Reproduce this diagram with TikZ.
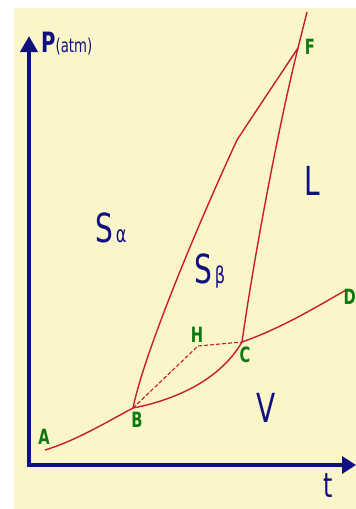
\documentclass[tikz,border=0pt]{standalone}
\usepackage{fontspec}
\setmainfont{DejaVu Sans}
\newfontfamily\diagfont[FakeStretch=0.7]{DejaVu Sans}
\usetikzlibrary{arrows.meta,positioning}
\definecolor{navy}{RGB}{16,16,128}
\definecolor{cream}{RGB}{251,246,202}
\definecolor{green2}{RGB}{16,120,16}
\definecolor{red2}{RGB}{200,30,36}
\tikzset{
  axis/.style={draw=navy, line width=4.5pt, line join=miter,
    {Triangle[length=16pt,width=17pt]}-{Triangle[length=14pt,width=17pt]}},
  curve/.style={draw=red2, line width=1.4pt},
  tieline/.style={draw=red2, line width=1.1pt, dash pattern=on 4pt off 2pt},
  ptlabel/.style={text=green2, inner sep=0pt,
    font=\diagfont\bfseries\fontsize{21}{21}\selectfont},
  phase/.style={text=navy, inner sep=0pt, anchor=base west,
    font=\diagfont\fontsize{40}{40}\selectfont}
}
\newcommand{\grk}[1]{\kern3pt{\fontsize{23}{23}\selectfont #1}}

\begin{document}
\begin{tikzpicture}[x=1pt, y=-1pt]
\useasboundingbox (0,0) rectangle (356,509);
\fill[white] (0,0) rectangle (356,509);
\fill[cream] (14,8) rectangle (356,509);

\coordinate (O) at (29,465);
\coordinate (Ptip) at (29,36);
\coordinate (ttip) at (356,465);
\draw[axis] (Ptip) -- (O) -- (ttip);

\node[text=navy, anchor=base west, inner sep=0pt] (plabel) at (41,52)
  {\diagfont\bfseries\fontsize{28}{28}\selectfont P\mdseries\fontsize{19}{19}\selectfont(atm)};
\node[text=navy, anchor=base west, inner sep=0pt] (tlabel) at (323,497)
  {\diagfont\fontsize{34}{34}\selectfont t};

\coordinate (A) at (45,450);
\coordinate (B) at (133,408);
\coordinate (C) at (242,342);
\coordinate (D) at (346,290);
\coordinate (H) at (198,346);
\coordinate (K) at (237,140);
\coordinate (F) at (298,48);
\coordinate (top) at (307,12);

\draw[curve] (A) .. controls (75,441) and (105,423) .. (B);
\draw[curve] (B) .. controls (175,400) and (220,380) .. (C);
\draw[curve] (C) .. controls (282,328) and (318,306) .. (D);
\draw[curve] (B) .. controls (145,350) and (200,220) .. (K)
  .. controls (260,105) and (280,75) .. (F);
\draw[curve] (C) .. controls (255,250) and (280,120) .. (F) -- (top);
\draw[tieline] (B) -- (H) -- (C);

\node[ptlabel] (lblA) at (44,437) {A};
\node[ptlabel] (lblB) at (137,420) {B};
\node[ptlabel] (lblC) at (245,355) {C};
\node[ptlabel, anchor=east] (lblD) at (356,297) {D};
\node[ptlabel] (lblH) at (197,335) {H};
\node[ptlabel] (lblF) at (310,47) {F};

\node[phase] (salpha) at (95,242) {S\grk{α}};
\node[phase] (sbeta) at (194,283) {S\grk{β}};
\node[phase] (liquid) at (304,195) {L};
\node[phase] (vapour) at (256,422) {V};
\end{tikzpicture}
\end{document}
